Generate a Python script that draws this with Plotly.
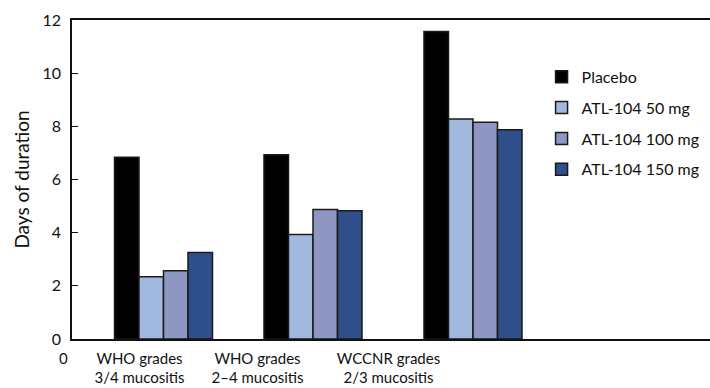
import plotly.graph_objects as go

# ---- data ----
series_names = ["Placebo", "ATL-104 50 mg", "ATL-104 100 mg", "ATL-104 150 mg"]
placebo = [6.84, 6.93, 11.57]
atl_50 = [2.34, 3.93, 8.28]
atl_100 = [2.57, 4.87, 8.15]
atl_150 = [3.25, 4.82, 7.87]
category_labels = ["WHO grades<br>3/4 mucositis", "WHO grades<br>2\u20134 mucositis", "WCCNR grades<br>2/3 mucositis"]
y_ticks = [0, 2, 4, 6, 8, 10, 12]

# ---- layout helpers (positions along a numeric x axis) ----
group_pos = [91.5, 241, 401]
label_pos = [67.5, 185.5, 316.5]
bar_w = 24.5
colors = ["#000000", "#a1b9df", "#8e97c1", "#2f4f8b"]

values = [placebo, atl_50, atl_100, atl_150]

fig = go.Figure()
for i, (name, vals, col) in enumerate(zip(series_names, values, colors)):
    fig.add_trace(go.Bar(
        x=group_pos, y=vals, name=name,
        width=bar_w, offset=(i - 2) * bar_w,
        marker=dict(color=col, line=dict(color="#1a1a1a", width=1.5)),
        legendgroup=name,
    ))

font_fam = "Lato, 'Liberation Sans', Arial, sans-serif"
fig.update_layout(
    width=710, height=388,
    margin=dict(l=72, r=0, t=20, b=49, autoexpand=False),
    plot_bgcolor="white", paper_bgcolor="white",
    font=dict(family=font_fam, size=16, color="#111"),
    barmode="overlay",
    showlegend=True,
    legend=dict(x=0.736, y=0.875, xanchor="left", yanchor="top",
                font=dict(size=16, family=font_fam, color="#111"),
                tracegroupgap=7, bgcolor="rgba(0,0,0,0)"),
    xaxis=dict(range=[0, 638], showgrid=False, zeroline=False, automargin=False,
               showline=True, linecolor="#111", linewidth=1.5, mirror=True,
               tickmode="array", tickvals=label_pos, ticktext=category_labels,
               ticks="", tickfont=dict(size=15), ticklabelstandoff=5),
    yaxis=dict(range=[0, 12], tickvals=y_ticks, showgrid=False, zeroline=False,
               automargin=False,
               showline=True, linecolor="#111", linewidth=1.5,
               ticks="inside", ticklen=6, tickcolor="#111",
               ticklabelstandoff=6, tickfont=dict(size=16),
               title=dict(text="Days of duration", font=dict(size=19), standoff=8)),
    annotations=[dict(text="0", xref="paper", yref="paper", x=-0.014, y=-0.025,
                      xanchor="center", yanchor="top", showarrow=False,
                      font=dict(size=15, family=font_fam, color="#111"))],
)

fig.write_html("out.html", config={"displayModeBar": False},
               post_script="document.body.style.margin='0';")
